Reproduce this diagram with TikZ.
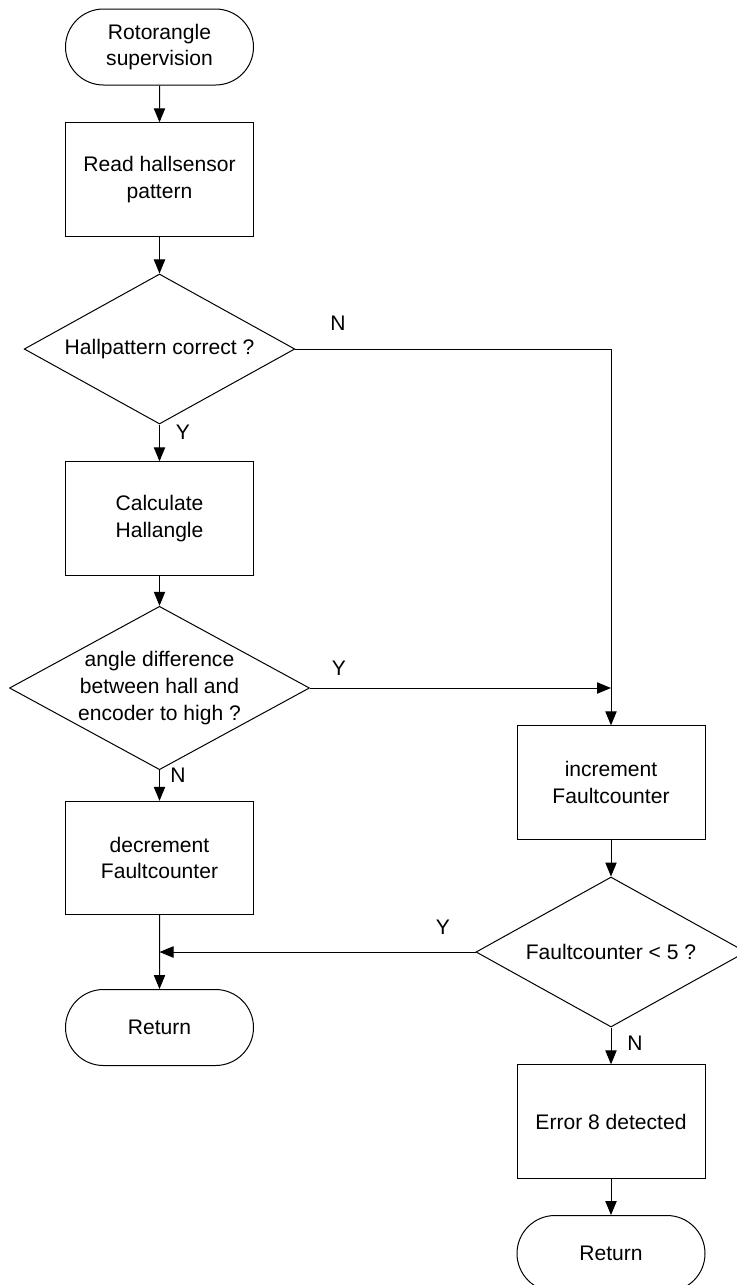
\documentclass[tikz,border=0pt]{standalone}
\usepackage{fontspec}
\setmainfont{Liberation Sans}
\usetikzlibrary{shapes.geometric,shapes.misc,arrows.meta}
\begin{document}
\begin{tikzpicture}[x=0.75pt,y=-0.75pt,
  every node/.style={font=\fontsize{15.8}{20}\selectfont, align=center, inner sep=0pt},
  term/.style={draw, line width=0.75pt, rounded rectangle, minimum width=141pt, minimum height=57pt},
  proc/.style={draw, line width=0.75pt, rectangle, minimum width=141pt, minimum height=85pt},
  dec/.style={draw, line width=0.75pt, diamond, shape aspect=1.8},
  lbl/.style={font=\fontsize{15.8}{20}\selectfont},
  conn/.style={line width=0.75pt, -{Triangle[length=10.5pt,width=8.5pt]}},
  plain/.style={line width=0.75pt}]
\useasboundingbox (0,0) rectangle (737,1285);
% left column
\node[term] (start) at (159.5,47) {Rotorangle\\supervision};
\node[proc] (read) at (159.5,179.5) {Read hallsensor\\pattern};
\node[dec, minimum width=203pt, minimum height=112.5pt] (d1) at (159.5,349) {Hallpattern correct ?};
\node[proc] (calc) at (159.5,518.5) {Calculate\\Hallangle};
\node[dec, minimum width=225pt, minimum height=112.5pt] (d2) at (159.5,688) {angle difference\\between hall and\\encoder to high ?};
\node[proc] (decr) at (159.5,858) {decrement\\Faultcounter};
\node[term] (ret1) at (159.5,1027.5) {Return};
% right column
\node[proc] (inc) at (611,782.5) {increment\\Faultcounter};
\node[dec, minimum width=202.5pt, minimum height=112.5pt] (d3) at (611,952) {Faultcounter < 5 ?};
\node[proc] (err) at (611,1121.5) {Error 8 detected};
\node[term] (ret2) at (611,1253.5) {Return};
% corner coordinate
\coordinate (c1) at (611,349);
% labels
\node[lbl] (n1) at (338,323) {N};
\node[lbl] (y1) at (183,432) {Y};
\node[lbl] (y2) at (339,668) {Y};
\node[lbl] (n2) at (178,775) {N};
\node[lbl] (y3) at (443,927) {Y};
\node[lbl] (n3) at (635,1043) {N};
% connectors
\draw[conn] (start) -- (read);
\draw[conn] (read) -- (d1);
\draw[conn] (d1) -- (calc);
\draw[conn] (calc) -- (d2);
\draw[conn] (d2) -- (decr);
\draw[conn] (decr) -- (ret1);
\draw[plain] (d1.east) -- (c1);
\draw[conn] (c1) -- (inc.north);
\draw[conn] (d2.east) -- (d2.east -| inc.north);
\draw[conn] (inc) -- (d3);
\draw[conn] (d3.west) -- (d3.west -| decr.south);
\draw[conn] (d3) -- (err);
\draw[conn] (err) -- (ret2);
\end{tikzpicture}
\end{document}
